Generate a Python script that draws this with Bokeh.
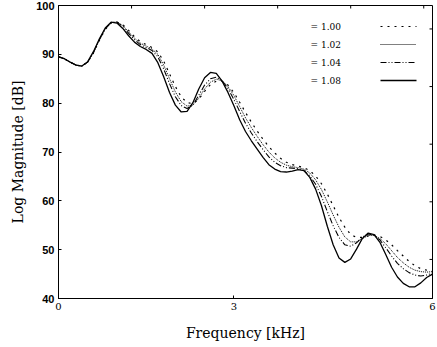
from bokeh.plotting import figure
from bokeh.models import FixedTicker, Range1d, Label
from bokeh.embed import file_html
from bokeh.resources import INLINE

# ---------------- data ----------------
freq_khz = [0.0, 0.1, 0.2, 0.3, 0.4, 0.5, 0.6, 0.7, 0.8, 0.9,
            1.0, 1.1, 1.2, 1.3, 1.4, 1.5, 1.6, 1.7, 1.8, 1.9,
            2.0, 2.1, 2.2, 2.3, 2.4, 2.5, 2.6, 2.7, 2.8, 2.9,
            3.0, 3.1, 3.2, 3.3, 3.4, 3.5, 3.6, 3.7, 3.8, 3.9,
            4.0, 4.1, 4.2, 4.3, 4.4, 4.5, 4.6, 4.7, 4.8, 4.9,
            5.0, 5.1, 5.2, 5.3, 5.4, 5.5, 5.6, 5.7, 5.8, 5.9,
            6.0, 6.1, 6.2, 6.3, 6.4]

mag_100 = [89.5, 89.1, 88.4, 87.8, 87.6, 88.4, 90.3, 92.9, 95.1, 96.4,
           96.6, 96.1, 94.9, 93.6, 92.6, 92.0, 91.4, 90.5, 88.6, 86.0,
           83.4, 81.3, 80.1, 79.9, 80.8, 82.4, 83.8, 84.5, 84.5, 83.7,
           82.2, 80.2, 78.1, 76.1, 74.3, 72.6, 71.1, 69.8, 68.7, 67.9,
           67.4, 67.1, 66.8, 66.2, 65.1, 63.5, 61.4, 59.0, 56.6, 54.6,
           53.1, 52.5, 52.5, 52.8, 53.0, 52.7, 52.0, 51.0, 49.8, 48.7,
           47.6, 46.7, 46.1, 45.8, 45.7]

mag_102 = [89.5, 89.1, 88.4, 87.8, 87.6, 88.4, 90.4, 93.0, 95.2, 96.5,
           96.6, 95.9, 94.6, 93.3, 92.3, 91.7, 91.1, 90.0, 87.8, 85.0,
           82.3, 80.3, 79.4, 79.6, 81.0, 82.9, 84.3, 84.9, 84.6, 83.4,
           81.6, 79.3, 77.0, 75.0, 73.2, 71.5, 70.0, 68.8, 67.9, 67.3,
           67.0, 66.8, 66.5, 65.7, 64.3, 62.3, 59.8, 57.1, 54.6, 52.6,
           51.6, 51.6, 52.3, 52.9, 52.9, 52.3, 51.2, 49.8, 48.4, 47.3,
           46.4, 45.8, 45.5, 45.4, 45.5]

mag_104 = [89.5, 89.1, 88.4, 87.8, 87.6, 88.4, 90.4, 93.0, 95.2, 96.5,
           96.6, 95.7, 94.3, 93.0, 92.0, 91.4, 90.8, 89.5, 87.0, 84.0,
           81.3, 79.5, 78.9, 79.6, 81.6, 83.7, 85.0, 85.3, 84.6, 83.0,
           80.8, 78.3, 75.9, 73.9, 72.1, 70.5, 69.0, 67.9, 67.2, 66.8,
           66.7, 66.6, 66.2, 65.1, 63.4, 60.9, 57.8, 54.9, 52.5, 51.0,
           50.7, 51.4, 52.6, 53.2, 53.0, 52.0, 50.4, 48.7, 47.2, 46.1,
           45.3, 44.8, 44.6, 44.8, 45.2]

mag_108 = [89.5, 89.1, 88.4, 87.8, 87.6, 88.5, 90.6, 93.2, 95.4, 96.6,
           96.4, 95.3, 93.8, 92.5, 91.6, 91.0, 90.2, 88.3, 85.4, 82.2,
           79.6, 78.2, 78.3, 80.1, 82.9, 85.2, 86.3, 86.1, 84.5, 82.2,
           79.5, 76.6, 74.2, 72.3, 70.6, 68.9, 67.4, 66.5, 66.0, 65.9,
           66.1, 66.4, 66.2, 64.8, 62.4, 59.0, 54.8, 51.0, 48.3, 47.4,
           48.1, 50.1, 52.3, 53.4, 53.1, 51.5, 49.0, 46.4, 44.4, 43.1,
           42.4, 42.4, 43.2, 44.3, 45.0]

series_labels = ["= 1.00", "= 1.02", "= 1.04", "= 1.08"]
series_values = [mag_100, mag_102, mag_104, mag_108]

x_min, x_max = 0.0, 6.4
y_min, y_max = 40, 100
x_ticks = [0, 3, 6.4]
x_tick_labels = {6.4: "6"}
y_ticks = [40, 50, 60, 70, 80, 90, 100]
top_ticks = [1.25, 2.5, 3.75, 5.0, 6.25]
right_ticks = [48.0, 59.8, 71.6, 83.4, 95.2]

# ---------------- styles / layout ----------------
W, H = 437, 347
BL, BR, BT, BB = 58, 5, 5, 49
TICK_PX = 3
dashes = ["2 5", "1 1", "6 2 1 2 1 2", "solid"]
widths = [1.2, 1.0, 1.1, 1.3]
serif = "DejaVu Serif"
# legend key layout, in pixels inside the plot frame (from bottom-left)
KEY_X0, KEY_X1, KEY_TEXT_X = 322, 358, 252
KEY_ROW_TOP, KEY_ROW_STEP = 272, 18

frame_w = W - BL - BR
frame_h = H - BT - BB

p = figure(width=W, height=H, output_backend="svg", toolbar_location=None,
           x_range=Range1d(x_min, x_max), y_range=Range1d(y_min, y_max),
           min_border_left=BL, min_border_right=BR, min_border_top=BT,
           min_border_bottom=BB)
p.extra_x_ranges = {"key": Range1d(0, frame_w)}
p.extra_y_ranges = {"key": Range1d(0, frame_h)}
p.background_fill_color = "white"
p.border_fill_color = "white"
p.outline_line_color = "black"
p.outline_line_width = 1
p.xgrid.grid_line_color = None
p.ygrid.grid_line_color = None

# bottom axis
xa = p.xaxis[0]
xa.ticker = FixedTicker(ticks=x_ticks)
xa.major_label_overrides = x_tick_labels
xa.major_tick_in = TICK_PX
xa.major_tick_out = 0
xa.minor_tick_line_color = None
xa.axis_line_color = "black"
xa.major_tick_line_color = "black"
xa.major_label_text_font = serif
xa.major_label_text_font_size = "10px"
xa.major_label_text_color = "black"
xa.major_label_standoff = 4
xa.axis_label = "Frequency [kHz]"
xa.axis_label_text_font = serif
xa.axis_label_text_font_style = "normal"
xa.axis_label_text_font_size = "14px"
xa.axis_label_text_color = "black"
xa.axis_label_standoff = 12

# left axis
ya = p.yaxis[0]
ya.ticker = FixedTicker(ticks=y_ticks)
ya.major_tick_in = TICK_PX
ya.major_tick_out = 0
ya.minor_tick_line_color = None
ya.axis_line_color = "black"
ya.major_tick_line_color = "black"
ya.major_label_text_font = "Liberation Sans"
ya.major_label_text_font_style = "bold"
ya.major_label_text_font_size = "11px"
ya.major_label_text_color = "black"
ya.major_label_standoff = 4
ya.axis_label = "Log Magnitude [dB]"
ya.axis_label_text_font = serif
ya.axis_label_text_font_style = "normal"
ya.axis_label_text_font_size = "14px"
ya.axis_label_text_color = "black"
ya.axis_label_standoff = 7

# inward tick marks on the top and right edges of the box (no labels)
dy = TICK_PX * (y_max - y_min) / frame_h
dx = TICK_PX * (x_max - x_min) / frame_w
p.segment(x0=top_ticks, y0=[y_max] * len(top_ticks),
          x1=top_ticks, y1=[y_max - dy] * len(top_ticks),
          line_color="black", line_width=1)
p.segment(x0=[x_max] * len(right_ticks), y0=right_ticks,
          x1=[x_max - dx] * len(right_ticks), y1=right_ticks,
          line_color="black", line_width=1)

# curves
for vals, dash, w in zip(series_values, dashes, widths):
    p.line(freq_khz, vals, line_color="black", line_width=w, line_dash=dash)

# key: text on the left, line sample on the right
for i, (lab, dash, w) in enumerate(zip(series_labels, dashes, widths)):
    ky = KEY_ROW_TOP - i * KEY_ROW_STEP
    p.line([KEY_X0, KEY_X1], [ky, ky], x_range_name="key", y_range_name="key",
           line_color="black", line_width=w, line_dash=dash)
    p.add_layout(Label(x=KEY_TEXT_X, y=ky, x_units="screen", y_units="screen",
                       text=lab, text_font=serif, text_font_size="9px",
                       text_color="black", text_baseline="middle",
                       text_align="left"))

open("out.html", "w").write(file_html(p, INLINE))
